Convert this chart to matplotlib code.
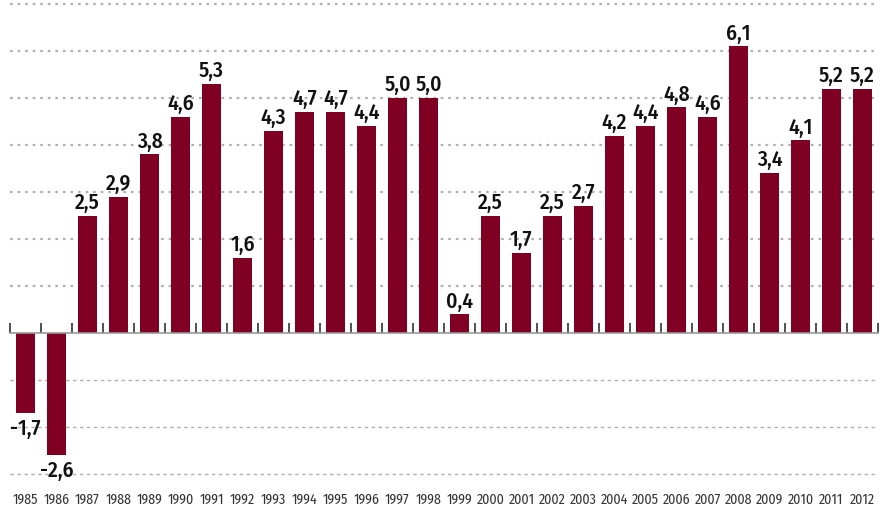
import numpy as np
import matplotlib.pyplot as plt
from matplotlib.transforms import blended_transform_factory

# growth per year (%)
years = list(range(1985, 2013))
values = [-1.7, -2.6, 2.5, 2.9, 3.8, 4.6, 5.3, 1.6, 4.3, 4.7, 4.7, 4.4, 5.0, 5.0,
          0.4, 2.5, 1.7, 2.5, 2.7, 4.2, 4.4, 4.8, 4.6, 6.1, 3.4, 4.1, 5.2, 5.2]
grid_levels = [-3, -2, -1, 1, 2, 3, 4, 5, 6, 7]

bar_color = '#800024'
font = ['Fira Sans Condensed', 'DejaVu Sans']

fig = plt.figure(figsize=(8.82, 5.08), dpi=100)
ax = fig.add_axes([0.0113, 0.0453, 0.984, 0.9547])

x = np.arange(len(years))
ax.bar(x, values, width=0.62, color=bar_color, zorder=3)

# dotted gridlines
for g in grid_levels:
    if g > 0:
        ax.axhline(g, color='#b0b0b0', lw=1.6, ls=(0, (1.2, 2.2)), zorder=1)
    else:
        ax.axhline(g, color='#b0b0b0', lw=1.0, ls=(0, (2.5, 2.5)), zorder=1)

# value labels
for xi, v in zip(x, values):
    label = f'{v:.1f}'.replace('.', ',')
    if v >= 0:
        ax.text(xi, v + 0.05, label, ha='center', va='bottom', fontsize=15.5,
                fontweight=500, fontstretch='condensed', family=font,
                color='#111111', zorder=4)
    else:
        ax.text(xi, v - 0.1, label, ha='center', va='top', fontsize=15.5,
                fontweight=500, fontstretch='condensed', family=font,
                color='#111111', zorder=4)

ax.set_xlim(-0.5, len(years) - 0.5)
ax.set_ylim(-3.23, 7.085)

for side in ['top', 'right', 'left']:
    ax.spines[side].set_visible(False)
ax.spines['bottom'].set_position(('data', 0))
ax.spines['bottom'].set_color('#999999')
ax.spines['bottom'].set_linewidth(1.2)
ax.spines['bottom'].set_zorder(5)

ax.set_yticks([])
ax.set_xticks(x)
ax.set_xticklabels([])
ax.tick_params(axis='x', which='major', length=0)
ax.set_xticks(np.arange(len(years) + 1) - 0.5, minor=True)
ax.tick_params(axis='x', which='minor', direction='in', length=7, width=1.2,
               color='#333333')

# year labels along the bottom
trans = blended_transform_factory(ax.transData, ax.transAxes)
for xi, yr in zip(x, years):
    ax.text(xi, -0.016, str(yr), transform=trans, ha='center', va='top',
            fontsize=10, fontstretch='condensed', family=font, color='#333333')

plt.savefig('out.png', dpi=100)
